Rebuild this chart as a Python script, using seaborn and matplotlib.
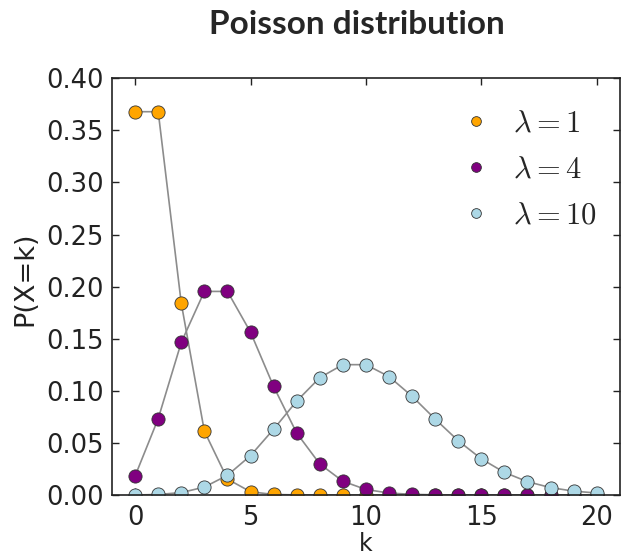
import matplotlib
matplotlib.use("Agg")
import matplotlib.pyplot as plt
import numpy as np
import pandas as pd
import seaborn as sns
from matplotlib.lines import Line2D

k_values = list(range(21))
lam_labels = [r"$\lambda=1$", r"$\lambda=4$", r"$\lambda=10$"]
lam1 = [0.3679, 0.3679, 0.1839, 0.0613, 0.0153, 0.0031, 0.0005, 0.0001, 0.0, 0.0,
        0.0, 0.0, 0.0, 0.0, 0.0, 0.0, 0.0, 0.0, 0.0, 0.0, 0.0]
lam4 = [0.0183, 0.0733, 0.1465, 0.1954, 0.1954, 0.1563, 0.1042, 0.0595, 0.0298, 0.0132,
        0.0053, 0.0019, 0.0006, 0.0002, 0.0001, 0.0, 0.0, 0.0, 0.0, 0.0, 0.0]
lam10 = [0.0000, 0.0005, 0.0023, 0.0076, 0.0189, 0.0378, 0.0631, 0.0901, 0.1126, 0.1251,
         0.1251, 0.1137, 0.0948, 0.0729, 0.0521, 0.0347, 0.0217, 0.0128, 0.0071, 0.0037, 0.0019]
colors = ["orange", "purple", "lightblue"]

sns.set_style("ticks")
plt.rcParams["mathtext.fontset"] = "cm"
plt.rcParams["font.family"] = "sans-serif"
plt.rcParams["font.sans-serif"] = ["DejaVu Sans"]

fig = plt.figure(figsize=(6.26, 5.59), dpi=100)
ax = fig.add_axes([0.179, 0.1145, 0.811, 0.7455])

handles = []
for values, color, label in zip([lam1, lam4, lam10], colors, lam_labels):
    df = pd.DataFrame({"k": k_values, "p": values})
    sns.lineplot(data=df, x="k", y="p", ax=ax, color="#8c8c8c", linewidth=1.2,
                 marker="o", markersize=9.5, markerfacecolor=color,
                 markeredgecolor="#333333", markeredgewidth=0.6)
    handles.append(Line2D([], [], linestyle="none", marker="o", markersize=7,
                          markerfacecolor=color, markeredgecolor="#333333",
                          markeredgewidth=0.6, label=label))

ax.set_xlim(-1, 21)
ax.set_ylim(0, 0.40)
ax.set_xticks([0, 5, 10, 15, 20])
ax.set_yticks(np.arange(0, 0.41, 0.05))
ax.yaxis.set_major_formatter(matplotlib.ticker.FormatStrFormatter("%.2f"))
ax.tick_params(direction="in", length=5, width=1, labelsize=18.5, top=True, right=True,
               colors="#222222", labelcolor="#222222")
ax.tick_params(axis="x", pad=7)
ax.tick_params(axis="y", pad=6)
for spine in ax.spines.values():
    spine.set_visible(True)
    spine.set_linewidth(1.2)
    spine.set_color("#222222")
ax.set_xlabel("k", fontsize=17, color="#222222", labelpad=1)
ax.set_ylabel("P(X=k)", fontsize=19.5, color="#222222")
ax.yaxis.set_label_coords(-0.146, 0.52)

ax.legend(handles=handles, loc="upper right", frameon=False, fontsize=22,
          handletextpad=0.5, handlelength=1.4, labelspacing=0.55, borderaxespad=0.6,
          bbox_to_anchor=(1.014, 1.0))

fig.text(0.57, 0.957, "Poisson distribution", ha="center", va="center",
         fontsize=24, fontweight="bold", family=["Lato", "DejaVu Sans"])

fig.savefig("out.png", dpi=100, facecolor="white")
